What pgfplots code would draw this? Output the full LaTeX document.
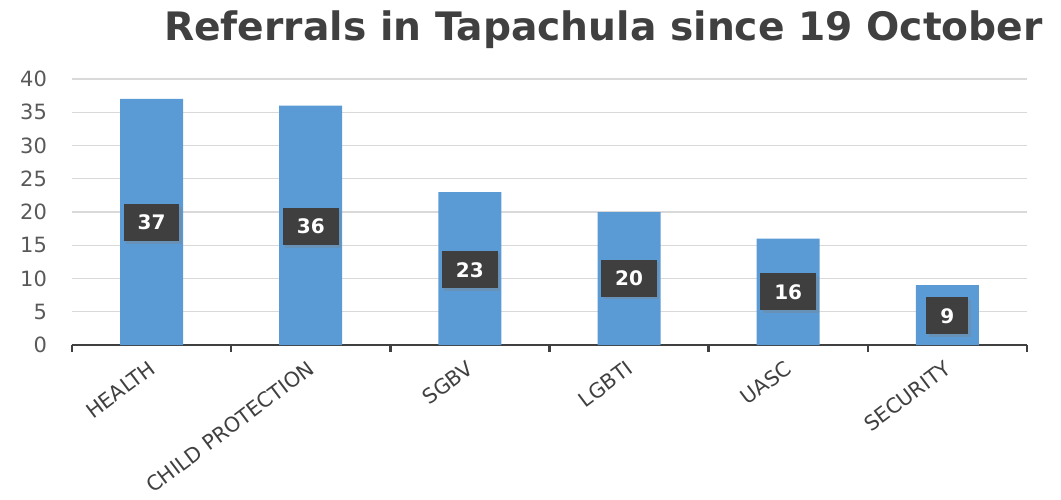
\documentclass[border=0pt]{standalone}
\usepackage{pgfplots}
\pgfplotsset{compat=1.18}
\usepackage{fontspec}
\setmainfont{DejaVu Sans}
\usetikzlibrary{shadows}
\definecolor{barblue}{HTML}{5B9BD5}
\definecolor{lblbox}{HTML}{3F3F3F}
\definecolor{ticktxt}{HTML}{595959}
\definecolor{gridc}{HTML}{D9D9D9}
\definecolor{axisc}{HTML}{404040}
\begin{document}
\begin{tikzpicture}
\begin{axis}[
  scale only axis,
  width=477.5pt, height=133pt,
  xmin=-0.5, xmax=5.5,
  ymin=0, ymax=40,
  ytick={0,5,...,40},
  xtick={0,...,5},
  xticklabels={HEALTH,CHILD PROTECTION,SGBV,LGBTI,UASC,SECURITY},
  minor xtick={-0.5,0.5,...,5.5},
  major x tick style={draw=none},
  minor x tick style={draw=axisc, line width=1.2pt},
  minor tick length=3.5pt,
  xtick align=outside,
  xtick pos=bottom,
  ytick pos=left,
  ytick style={draw=none},
  axis x line*=bottom,
  axis y line*=left,
  y axis line style={draw=none},
  x axis line style={draw=axisc, line width=1.3pt, -},
  ymajorgrids,
  grid style={gridc, line width=0.6pt},
  /pgf/number format/assume math mode=true,
  yticklabel style={font=\fontsize{10.5}{12}\selectfont, text=ticktxt, xshift=-9pt},
  xticklabel style={font=\fontsize{10.3}{12}\selectfont, text=axisc, rotate=37, anchor=east, xshift=0pt, yshift=-5pt},
  ybar, bar width=31.5pt,
  clip=false,
]
\coordinate (O) at (rel axis cs:0,0);
\addplot[ybar, bar shift=0pt, fill=barblue, draw=none] coordinates {(0,37) (1,36) (2,23) (3,20) (4,16) (5,9)};
\addplot[ybar, bar shift=0pt, draw=none, fill=none,
  point meta=explicit symbolic,
  nodes near coords,
  every node near coord/.append style={anchor=center, fill=lblbox, text=white,
    font=\fontsize{10}{12}\selectfont\bfseries, inner xsep=7pt, minimum height=18.5pt,
    drop shadow={opacity=0.35, shadow xshift=1.2pt, shadow yshift=-1.2pt}},
] coordinates {(0,18.4) [37] (1,17.8) [36] (2,11.3) [23] (3,10.0) [20] (4,8.0) [16] (5,4.4) [9]};
\node[anchor=base, font=\fontsize{19.6}{22}\selectfont\bfseries, text=axisc] at ([xshift=27pt, yshift=19.5pt]rel axis cs:0.5,1) {Referrals in Tapachula since 19 October};
\end{axis}
\pgfresetboundingbox
\path ([shift={(-36pt,-77pt)}]O) rectangle ([shift={(494.5pt,172.5pt)}]O);
\end{tikzpicture}
\end{document}
